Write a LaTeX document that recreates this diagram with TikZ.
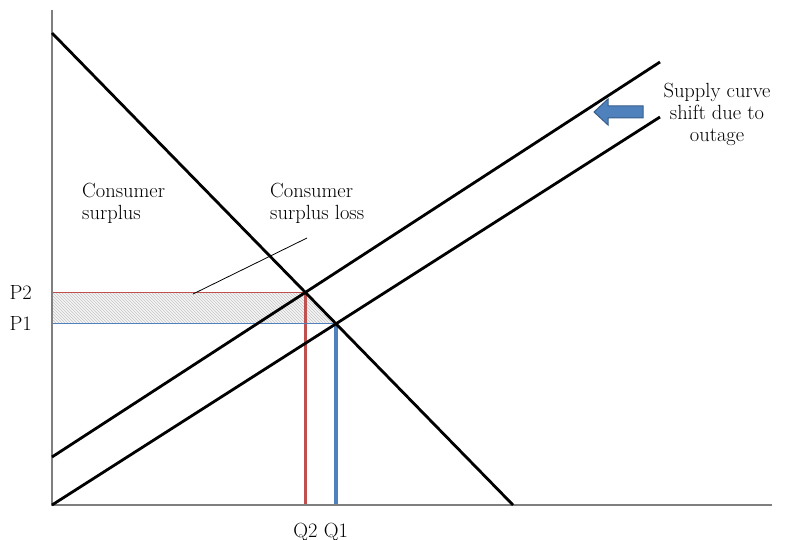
\documentclass[tikz,border=0pt]{standalone}
\usetikzlibrary{patterns}
\definecolor{axisgray}{HTML}{7F7F7F}
\definecolor{mred}{HTML}{C0504D}
\definecolor{mblue}{HTML}{4F81BD}
\definecolor{mbluedark}{HTML}{385D8A}
\begin{document}
\begin{tikzpicture}[x=1pt,y=-1pt,
  lbl/.style={font=\fontsize{20.5}{22}\selectfont, inner sep=0pt, align=left},
  curve/.style={line width=2.8pt, black},
  axisline/.style={line width=1.3pt, axisgray},
  thinred/.style={line width=1.3pt, mred},
  thinblue/.style={line width=1.3pt, mblue},
  thickred/.style={line width=3.2pt, mred},
  thickblue/.style={line width=3.2pt, mblue}]
\useasboundingbox (0,0) rectangle (794,540);
% key points
\coordinate (O) at (52,505);
\coordinate (Ytop) at (52,10);
\coordinate (Xend) at (772,505);
\coordinate (Dtop) at (52,33);
\coordinate (Dbot) at (513,505);
\coordinate (S1a) at (52,505);
\coordinate (S1b) at (660,117);
\coordinate (S2a) at (52,457);
\coordinate (S2b) at (660,62);
\coordinate (E1) at (intersection of Dtop--Dbot and S1a--S1b);
\coordinate (E2) at (intersection of Dtop--Dbot and S2a--S2b);
% hatched loss area
\fill[gray!8] (O|-E2) -- (E2) -- (E1) -- (O|-E1) -- cycle;
\fill[pattern=north west lines, pattern color=gray!45] (O|-E2) -- (E2) -- (E1) -- (O|-E1) -- cycle;
% price / quantity lines
\draw[thinred] (O|-E2) -- (E2);
\draw[thickred] (E2) -- (E2|-O);
\draw[thinblue] (O|-E1) -- (E1);
\draw[thickblue] (E1) -- (E1|-O);
% axes
\draw[axisline] (Ytop) -- (O) -- (Xend);
% curves
\draw[curve] (Dtop) -- (Dbot);
\draw[curve] (S1a) -- (S1b);
\draw[curve] (S2a) -- (S2b);
% labels
\node[lbl, anchor=east] (p2) at ([xshift=-20pt]O|-E2) {P2};
\node[lbl, anchor=east] (p1) at ([xshift=-20pt]O|-E1) {P1};
\node[lbl] (q2) at ([yshift=-27pt]E2|-O) {Q2};
\node[lbl] (q1) at ([yshift=-27pt]E1|-O) {Q1};
\node[lbl, anchor=west] (cs) at (82,203) {Consumer\\surplus};
\node[lbl, anchor=west] (csl) at (270,203) {Consumer\\surplus loss};
\node[lbl, align=center] (shift) at (717,114) {Supply curve\\shift due to\\outage};
% leader
\coordinate (L1) at (193,294);
\coordinate (L2) at (307,238);
\draw[line width=0.8pt] (L1) -- (L2);
% block arrow
\draw[fill=mblue, draw=mbluedark, line width=1pt]
  (594,112) -- (608,99) -- (608,106) -- (643,106) -- (643,118) -- (608,118) -- (608,125) -- cycle;
\end{tikzpicture}
\end{document}
